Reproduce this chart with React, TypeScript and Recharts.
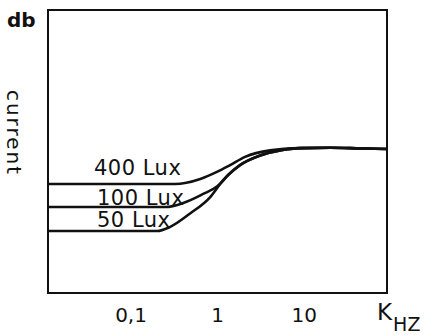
import { LineChart, Line, XAxis, YAxis, ReferenceArea } from "recharts";

// frequency in kHz, response in db (arbitrary scale 0..100)
const freq400 = [0.011, 0.32, 0.63, 0.98, 1.39, 2.07, 4.03, 8.95, 19.9, 44, 90];
const db400 = [38.5, 38.5, 40.3, 42.8, 45.2, 48.1, 50.4, 51.2, 51.3, 51.1, 50.9];

const freq100 = [0.011, 0.25, 0.4, 0.68, 0.98, 1.32, 1.81, 3.09, 5.26, 8.95, 19.9, 44, 90];
const db100 = [30.4, 30.4, 31.8, 35.0, 37.6, 41.7, 45.2, 48.6, 50.4, 51.2, 51.3, 51.1, 50.9];

const freq50 = [0.011, 0.2, 0.28, 0.48, 0.82, 1.07, 1.32, 1.81, 3.09, 5.26, 8.95, 19.9, 44, 90];
const db50 = [21.9, 21.9, 23.3, 28.1, 33.9, 38.5, 41.7, 45.2, 48.6, 50.4, 51.2, 51.3, 51.1, 50.9];

const seriesNames = ["400 Lux", "100 Lux", "50 Lux"];
const xTicks = [0.1, 1, 10];
const xTickLabels = ["0,1", "1", "10"];
const freqRange = [0.011, 90];
const dbRange = [0, 100];

const toRows = (xs: number[], ys: number[]) => xs.map((f, i) => ({ f, db: ys[i] }));

const series = [
  { name: seriesNames[0], data: toRows(freq400, db400), dx: 46, dy: -9 },
  { name: seriesNames[1], data: toRows(freq100, db100), dx: 49, dy: -2 },
  { name: seriesNames[2], data: toRows(freq50, db50), dx: 49, dy: -4 },
];

const FONT = "'DejaVu Sans', sans-serif";
const INK = "#111";

// name tag drawn once, above the flat left end of each curve
const curveTag = (name: string, dx: number, dy: number) => (p: any) =>
  p.index === 0 ? (
    <text x={p.x + dx} y={p.y + dy} fontFamily={FONT} fontSize={21} letterSpacing={0.5} fill={INK}>
      {name}
    </text>
  ) : null;

const FreqTick = (p: any) => {
  const i = xTicks.indexOf(p.payload.value);
  return (
    <text x={p.x} y={p.y + 21} textAnchor="middle" fontFamily={FONT} fontSize={20} fill={INK}>
      {xTickLabels[i]}
    </text>
  );
};

const UnitLabel = (p: any) => {
  const vb = p.viewBox;
  return (
    <text x={vb.x + vb.width - 10} y={vb.y + 27} fontFamily={FONT} fill={INK}>
      <tspan fontSize={23}>K</tspan>
      <tspan fontSize={19} dx={1} dy={11}>HZ</tspan>
    </text>
  );
};

const YTitle = (p: any) => {
  const vb = p.viewBox;
  const cx = vb.x + 14;
  const cy = vb.y + 123;
  return (
    <g>
      <text x={vb.x + 7} y={vb.y + 17} fontFamily={FONT} fontSize={20} fontWeight="bold" fill={INK}>
        db
      </text>
      <text
        x={cx}
        y={cy}
        transform={`rotate(90, ${cx}, ${cy})`}
        textAnchor="middle"
        dominantBaseline="central"
        fontFamily={FONT}
        fontSize={20}
        letterSpacing={2}
        fill={INK}
      >
        current
      </text>
    </g>
  );
};

export default function App() {
  return (
    <div style={{ width: 430, height: 335, background: "#fff" }}>
      <style>{"body{margin:0}"}</style>
      <LineChart width={430} height={335} margin={{ top: 10, right: 43, bottom: 0, left: 0 }}>
        <XAxis
          dataKey="f"
          type="number"
          scale="log"
          domain={freqRange}
          allowDataOverflow
          ticks={xTicks}
          height={42}
          axisLine={false}
          tickLine={false}
          tick={<FreqTick />}
          label={<UnitLabel />}
        />
        <YAxis
          type="number"
          domain={dbRange}
          width={48}
          axisLine={false}
          tickLine={false}
          tick={false}
          label={<YTitle />}
        />
        <ReferenceArea
          x1={freqRange[0]}
          x2={freqRange[1]}
          y1={dbRange[0]}
          y2={dbRange[1]}
          fill="none"
          fillOpacity={0}
          stroke={INK}
          strokeWidth={2}
        />
        {series.map((s) => (
          <Line
            key={s.name}
            data={s.data}
            dataKey="db"
            type="monotone"
            stroke={INK}
            strokeWidth={2.6}
            dot={false}
            isAnimationActive={false}
            label={curveTag(s.name, s.dx, s.dy)}
          />
        ))}
      </LineChart>
    </div>
  );
}
